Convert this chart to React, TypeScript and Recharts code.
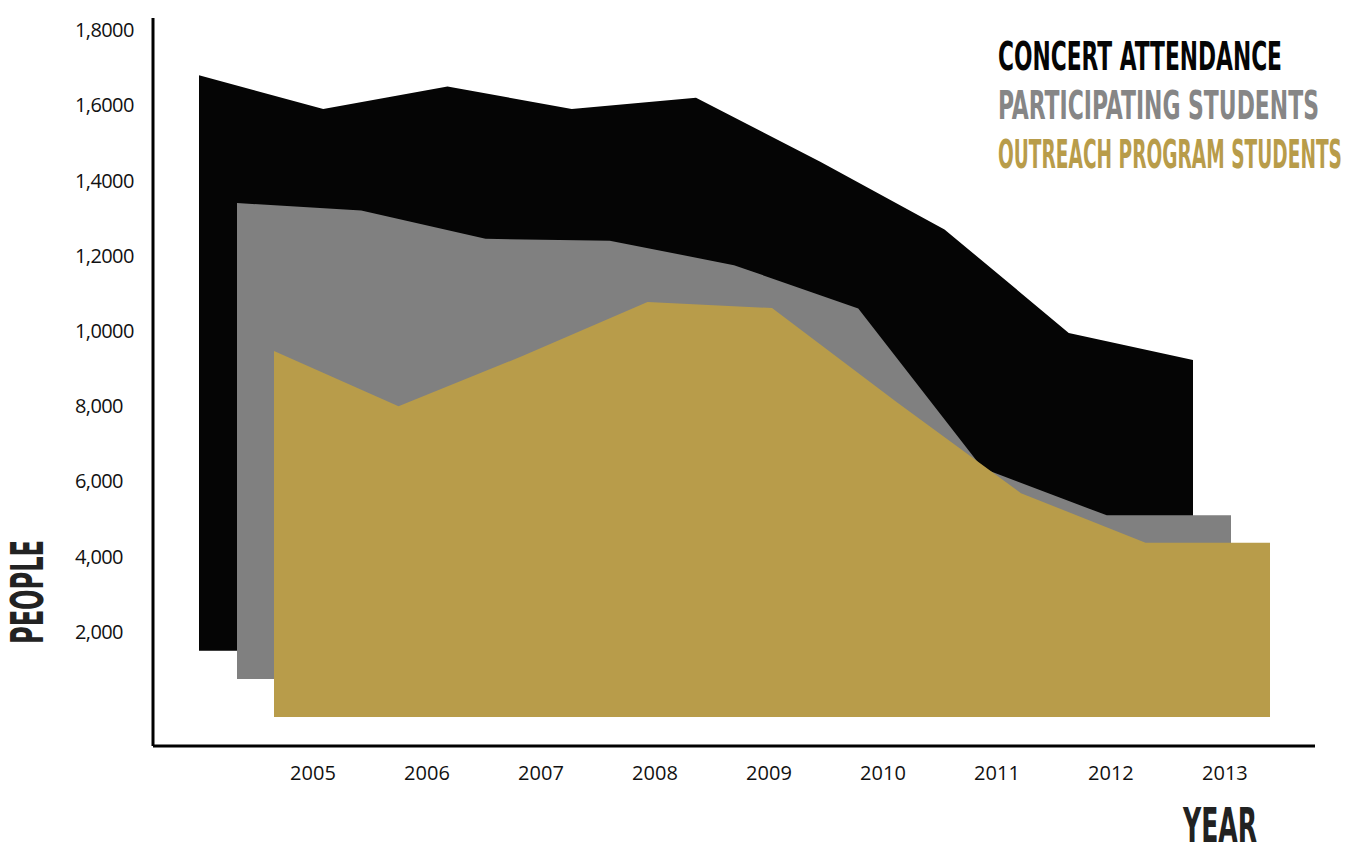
import { ComposedChart, Area, XAxis, YAxis, Legend } from "recharts";

const YEARS = [2005, 2006, 2007, 2008, 2009, 2010, 2011, 2012, 2013];
const CONCERT = [16800, 15900, 16500, 15900, 16200, 14500, 12700, 9950, 9230];
const PARTICIPATING = [13400, 13200, 12450, 12400, 11750, 10600, 6350, 5100, 5100];
const OUTREACH = [9470, 8000, 9340, 10770, 10610, 8110, 5690, 4370, 4370];

// where each layer's floor sits (layers are offset like a 3d stack)
const CONCERT_BASE = 1500;
const PARTICIPATING_BASE = 750;
const OUTREACH_BASE = -260;

const Y_TICKS = [2000, 4000, 6000, 8000, 10000, 12000, 14000, 16000, 18000];
const Y_TICK_LABELS = ["2,000", "4,000", "6,000", "8,000", "1,0000", "1,2000", "1,4000", "1,6000", "1,8000"];

const SERIES = [
  { key: "concert", name: "CONCERT ATTENDANCE", fill: "#050505", text: "#050505", width: 284 },
  { key: "participating", name: "PARTICIPATING STUDENTS", fill: "#808080", text: "#868686", width: 321 },
  { key: "outreach", name: "OUTREACH PROGRAM STUDENTS", fill: "#b89c4a", text: "#b89c4a", width: 344 },
];

const rows = YEARS.map((year, i) => ({
  year,
  concert: CONCERT[i],
  participating: PARTICIPATING[i],
  outreach: OUTREACH[i],
}));

const TITLE_FONT = "'DejaVu Sans Condensed', 'Liberation Sans Narrow', sans-serif";
const LABEL_FONT = "'Open Sans', 'Liberation Sans', sans-serif";
const STRETCH = 1.6; // tall condensed headline look

// condensed headline text: small font stretched vertically
function TallText({ x, y, width, cap, fill, rotate = 0, children }: any) {
  const size = cap / (0.729 * STRETCH);
  const rot = rotate ? ` rotate(${rotate})` : "";
  return (
    <text
      transform={`translate(${x} ${y})${rot} scale(1 ${STRETCH})`}
      fontFamily={TITLE_FONT}
      fontWeight="bold"
      fontSize={size}
      fill={fill}
      textLength={width}
      lengthAdjust="spacingAndGlyphs"
    >
      {children}
    </text>
  );
}

function YearTick({ x, y, payload }: any) {
  return (
    <text x={x} y={y} dy={26} textAnchor="middle" fontFamily={LABEL_FONT} fontSize={20} fill="#111">
      {payload.value}
    </text>
  );
}

function PeopleTick({ x, y, payload }: any) {
  const idx = Y_TICKS.indexOf(payload.value);
  return (
    <text x={x - 70} y={y} dy={7} textAnchor="start" fontFamily={LABEL_FONT} fontSize={20} letterSpacing={-0.6} fill="#111">
      {Y_TICK_LABELS[idx]}
    </text>
  );
}

function LegendBlock() {
  return (
    <svg width={348} height={180}>
      {SERIES.map((s, i) => (
        <TallText key={s.key} x={0} y={50 + i * 49} width={s.width} cap={28} fill={s.text}>
          {s.name}
        </TallText>
      ))}
    </svg>
  );
}

export default function App() {
  return (
    <div style={{ position: "absolute", left: 0, top: 0, width: 1348, height: 848, background: "#fff" }}>
      <ComposedChart width={1348} height={848} data={rows} margin={{ top: 18, right: 33, bottom: 0, left: 0 }}>
        <XAxis xAxisId="concert" dataKey="year" type="number" domain={[2004.6298, 2013.9819]} allowDataOverflow hide height={0} />
        <XAxis xAxisId="participating" dataKey="year" type="number" domain={[2004.3239, 2013.676]} allowDataOverflow hide height={0} />
        <XAxis xAxisId="outreach" dataKey="year" type="number" domain={[2004.0281, 2013.3614]} allowDataOverflow hide height={0} />
        <XAxis
          xAxisId="year"
          dataKey="year"
          type="number"
          domain={[2003.5965, 2013.79]}
          ticks={YEARS}
          interval={0}
          allowDataOverflow
          height={102}
          axisLine={{ stroke: "#000", strokeWidth: 3 }}
          tickLine={false}
          tick={<YearTick />}
          label={{
            content: () => (
              <TallText x={1183} y={842} width={74} cap={35} fill="#222">
                YEAR
              </TallText>
            ),
          }}
        />
        <YAxis
          yAxisId="people"
          type="number"
          domain={[-1030, 18319]}
          ticks={Y_TICKS}
          interval={0}
          allowDataOverflow
          width={153}
          axisLine={{ stroke: "#000", strokeWidth: 3 }}
          tickLine={false}
          tick={<PeopleTick />}
          label={{
            content: () => (
              <TallText x={43} y={644} rotate={-90} width={104} cap={33} fill="#222">
                PEOPLE
              </TallText>
            ),
          }}
        />
        <Area
          xAxisId="concert"
          yAxisId="people"
          type="linear"
          dataKey="concert"
          name={SERIES[0].name}
          baseValue={CONCERT_BASE}
          fill={SERIES[0].fill}
          fillOpacity={1}
          stroke="none"
          isAnimationActive={false}
        />
        <Area
          xAxisId="participating"
          yAxisId="people"
          type="linear"
          dataKey="participating"
          name={SERIES[1].name}
          baseValue={PARTICIPATING_BASE}
          fill={SERIES[1].fill}
          fillOpacity={1}
          stroke="none"
          isAnimationActive={false}
        />
        <Area
          xAxisId="outreach"
          yAxisId="people"
          type="linear"
          dataKey="outreach"
          name={SERIES[2].name}
          baseValue={OUTREACH_BASE}
          fill={SERIES[2].fill}
          fillOpacity={1}
          stroke="none"
          isAnimationActive={false}
        />
        <Legend
          layout="horizontal"
          verticalAlign="middle"
          align="center"
          content={<LegendBlock />}
          wrapperStyle={{ position: "absolute", left: 998, top: 20, width: 348, height: 180 }}
        />
      </ComposedChart>
    </div>
  );
}
